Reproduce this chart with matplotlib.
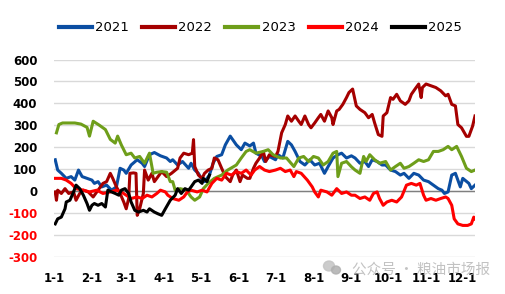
import matplotlib
matplotlib.use("Agg")
import matplotlib.pyplot as plt
from matplotlib.patches import Ellipse

# ---- data (day of year, value) ----
month_days = [0, 31, 59, 90, 120, 151, 181, 212, 243, 273, 304, 334]
month_labels = ["1-1", "2-1", "3-1", "4-1", "5-1", "6-1", "7-1", "8-1", "9-1", "10-1", "11-1", "12-1"]

d2021 = [1,3,6,10,14,17,20,23,27,31,33,36,39,43,47,51,54,57,59,63,68,72,74,78,82,87,92,95,97,101,105,110,112,115,118,121,123,127,130,133,137,140,144,146,149,153,156,160,163,165,170,172,176,181,183,187,191,194,197,201,205,209,213,217,221,224,228,232,235,239,243,246,250,254,257,260,264,268,271,275,279,283,286,290,294,298,302,306,310,314,317,319,322,325,328,332,334,339,341,344]
v2021 = [142,95,80,57,65,49,95,65,57,49,34,42,18,26,3,18,103,95,80,118,142,126,111,165,175,160,150,134,142,118,134,103,126,95,80,49,42,72,126,157,165,210,250,234,210,188,218,205,218,172,157,134,157,142,165,150,226,210,180,134,118,142,118,126,80,111,150,165,172,150,160,150,126,134,111,142,134,118,118,95,88,72,80,57,80,72,49,42,26,10,3,-12,-5,72,80,18,57,34,10,26]

d2022 = [1,2,3,6,9,12,16,18,21,24,28,32,36,40,43,46,48,51,54,57,59,61,62,65,67,68,70,73,74,77,80,82,85,88,92,96,101,103,106,110,113,114,115,118,121,123,126,129,131,134,137,140,144,146,149,152,154,158,160,163,165,168,171,173,176,181,183,186,189,191,194,197,200,202,205,208,210,213,216,218,221,224,227,228,231,233,236,239,241,244,247,250,254,257,260,262,265,268,269,272,275,277,280,283,287,290,292,295,298,300,301,304,308,312,316,320,322,325,328,330,333,337,339,342,344]
v2022 = [-5,-43,3,-12,10,-12,-5,-43,-12,3,-5,-28,3,34,42,80,57,18,-12,-51,-82,-35,80,82,80,-112,-82,-12,95,49,80,42,65,88,65,80,103,150,172,165,172,234,111,72,57,80,95,103,150,142,103,65,42,72,95,42,72,57,57,103,126,150,180,134,165,157,180,265,303,342,318,342,318,303,342,303,288,310,334,349,318,365,334,303,365,372,395,426,449,465,388,372,357,334,349,310,257,249,342,357,426,418,441,411,395,411,441,465,488,426,472,488,480,472,457,434,441,395,388,303,288,249,249,295,342]

d2023 = [2,4,7,12,17,22,27,29,32,37,42,46,50,52,55,59,63,66,70,74,78,81,84,88,92,95,97,99,103,108,112,115,119,122,126,131,137,142,149,153,157,160,165,171,175,179,185,190,196,200,204,208,212,216,220,224,228,231,232,235,239,243,246,250,253,255,258,262,266,271,275,279,283,286,290,294,298,302,306,310,314,318,322,325,329,333,337,341,344]
v2023 = [265,303,310,310,310,305,290,250,318,300,280,235,218,250,210,165,172,150,157,126,172,80,85,88,85,42,42,3,10,3,-28,-43,-28,10,34,57,72,95,118,150,180,188,172,180,188,165,150,150,111,150,157,134,157,150,118,134,172,180,65,126,134,110,95,80,157,134,165,142,126,134,95,111,126,103,111,126,142,134,142,180,180,188,203,188,203,157,103,88,95]

d2024 = [1,6,10,14,18,24,29,35,40,46,51,55,59,63,68,72,76,80,84,87,91,93,97,102,106,109,112,117,121,125,129,133,137,141,145,149,153,157,161,164,168,172,176,181,185,189,193,196,198,202,207,211,213,216,218,223,227,231,235,239,243,246,250,254,258,261,264,266,269,272,276,280,284,288,292,296,299,302,304,308,312,316,320,322,325,327,330,334,338,341,343,344]
v2024 = [57,57,49,34,10,3,-5,3,-12,-5,3,-5,-20,-35,-28,-35,-20,-28,-12,3,-5,-20,-35,-43,-28,-5,3,-5,3,-5,34,57,49,80,72,88,80,95,72,95,111,95,88,95,103,88,95,65,88,80,49,18,-5,-28,3,-5,-20,10,-12,-5,-20,-20,-35,-28,-43,-12,-5,-35,-66,-51,-43,-51,-28,26,34,26,34,-20,-43,-35,-43,-35,-28,-35,-66,-128,-151,-158,-158,-151,-120,-128]

d2025 = [1,3,6,9,10,13,16,18,21,24,27,29,31,33,36,39,42,44,47,50,53,55,58,61,63,66,69,73,76,78,82,85,88,91,95,99,101,104,107,110,112,115,118,121,122,125,127]
v2025 = [-151,-128,-120,-82,-51,-43,-5,26,10,-20,-58,-89,-66,-58,-66,-58,-74,3,-5,-12,-20,3,10,-12,-51,-89,-97,-89,-97,-82,-97,-105,-112,-82,-43,-20,10,-12,10,3,18,42,49,34,57,42,72]

series = [
    ("2021", d2021, v2021, "#0B4EA2"),
    ("2022", d2022, v2022, "#A50000"),
    ("2023", d2023, v2023, "#6E9E1A"),
    ("2024", d2024, v2024, "#FF0000"),
    ("2025", d2025, v2025, "#000000"),
]
yticks = [600, 500, 400, 300, 200, 100, 0, -100, -200, -300]

fig = plt.figure(figsize=(5.05, 2.94), dpi=100)
ax = fig.add_axes([54/505, 37.5/294, 421/505, 197/294])

for name, d, v, c in series:
    ax.plot(d, v, color=c, lw=2.2, label=name, solid_joinstyle="round")

ax.set_xlim(0, 344)
ax.set_ylim(-300, 600)
ax.set_yticks(yticks)
ax.set_yticklabels([str(t) for t in yticks])
for lab, t in zip(ax.get_yticklabels(), yticks):
    lab.set_color("#FF0000" if t < 0 else "#000000")
    lab.set_fontweight("bold")
    lab.set_fontsize(8.5)
ax.set_xticks(month_days)
ax.set_xticklabels(month_labels, fontsize=8.5, fontweight="bold")
ax.tick_params(axis="both", length=0)
ax.tick_params(axis="y", pad=12)
ax.tick_params(axis="x", pad=11)
for s in ax.spines.values():
    s.set_visible(False)
ax.grid(axis="y", color="#D9D9D9", lw=1)
ax.set_axisbelow(True)
ax.axhline(0, color="#7F7F7F", lw=1, zorder=1.5)

leg = ax.legend(loc="center", bbox_to_anchor=(0.49, 1.16), ncol=5, frameon=False,
                fontsize=9.5, handlelength=2.5, handletextpad=0.25, columnspacing=1.0)
for line in leg.get_lines():
    line.set_linewidth(3)

# watermark
fig.patches.append(Ellipse((329/505, 1 - 266/294), 11/505, 10/294, transform=fig.transFigure,
                           color="#C4C4C4", alpha=0.85, zorder=5))
fig.patches.append(Ellipse((336/505, 1 - 270/294), 9/505, 8/294, transform=fig.transFigure,
                           color="#B0B0B0", alpha=0.85, zorder=5))
fig.text(0.97, 1 - 270/294, "公众号 · 粮油市场报", fontsize=10.5, color="#B8B8B8", ha="right", va="center",
         family=["Noto Sans CJK SC", "DejaVu Sans"], alpha=0.85)

fig.savefig("out.png", dpi=100, facecolor="white")
